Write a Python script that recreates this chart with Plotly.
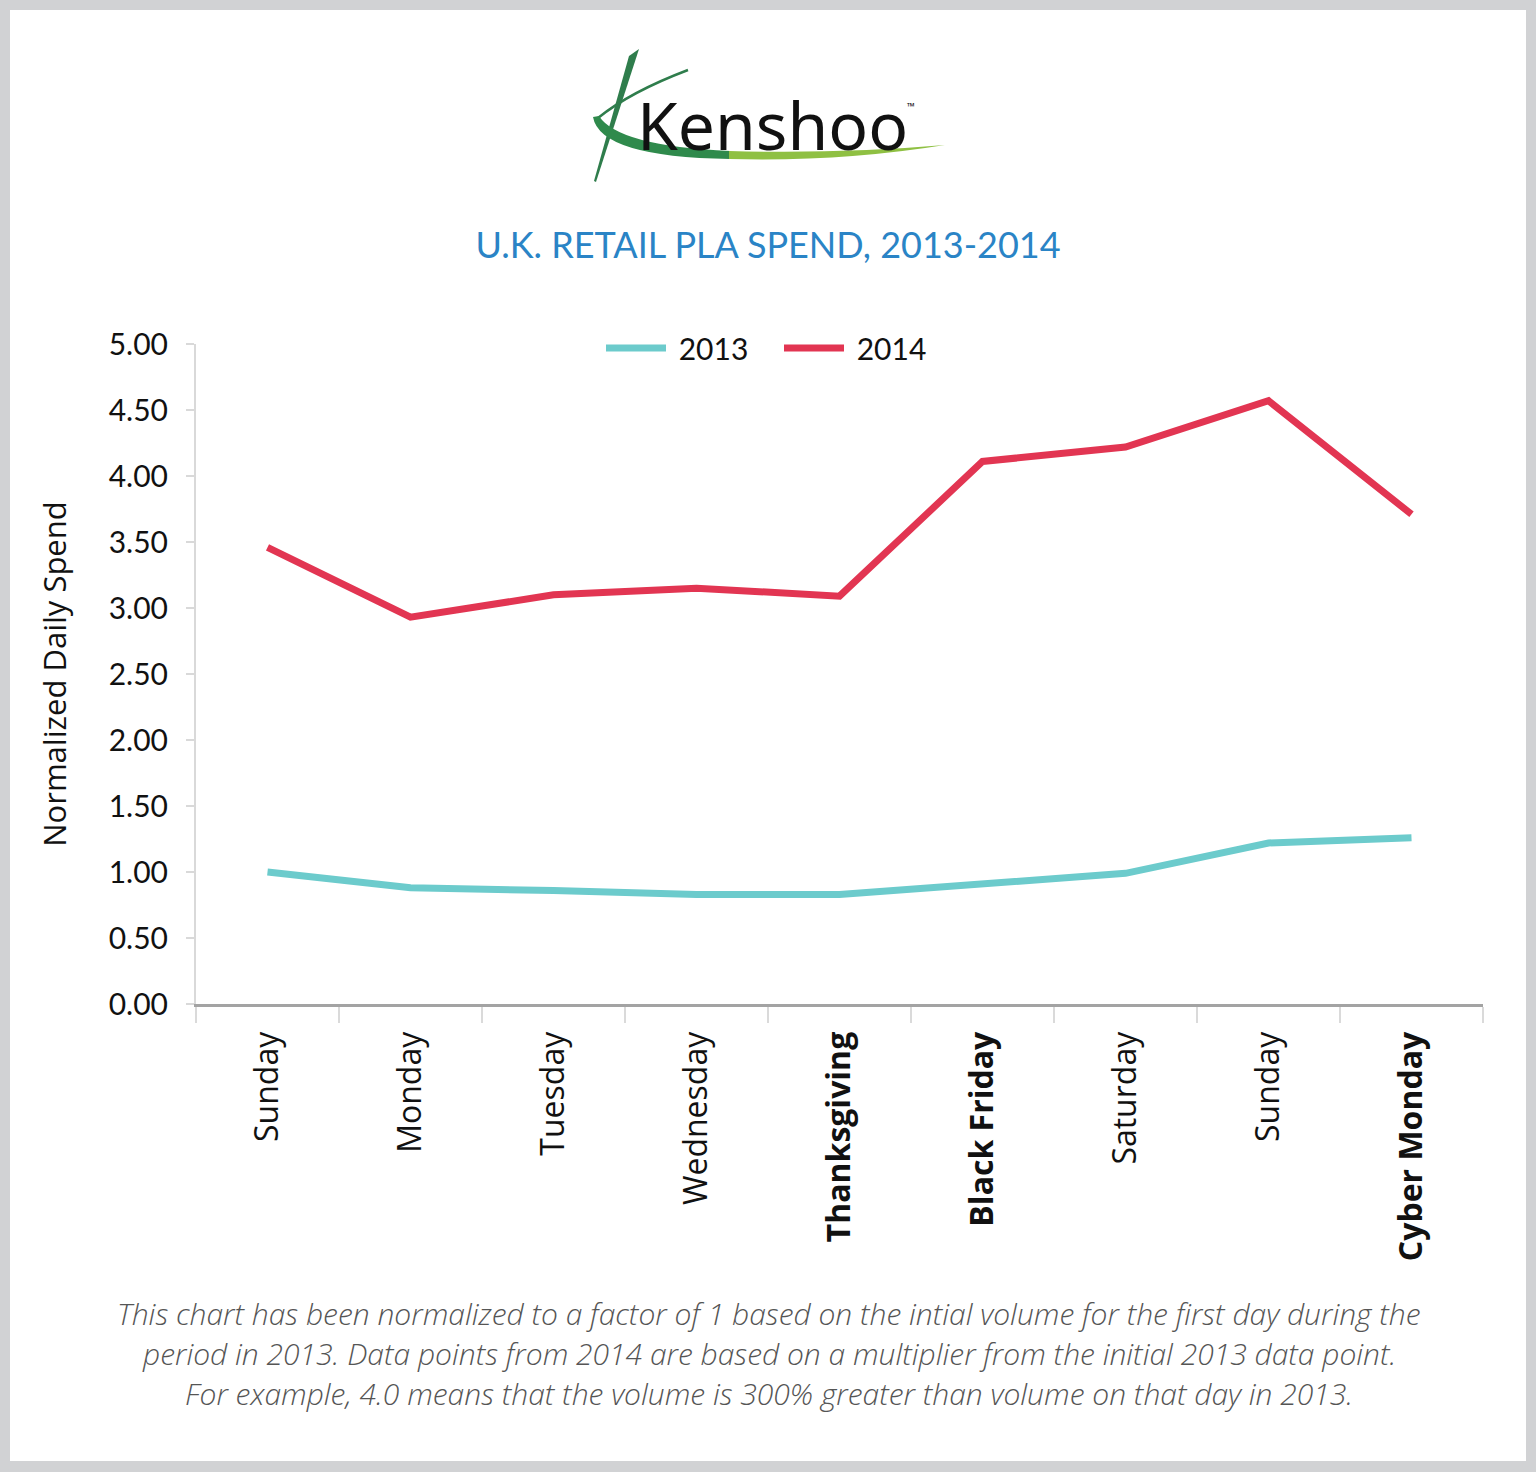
import plotly.graph_objects as go

# Kenshoo - U.K. retail PLA spend, Thanksgiving week 2013 vs 2014
days = ["Sunday", "Monday", "Tuesday", "Wednesday", "Thanksgiving",
        "Black Friday", "Saturday", "Sunday", "Cyber Monday"]
holidays = ["Thanksgiving", "Black Friday", "Cyber Monday"]
spend_2013 = [1.00, 0.88, 0.86, 0.83, 0.83, 0.91, 0.99, 1.22, 1.26]
spend_2014 = [3.46, 2.93, 3.10, 3.15, 3.09, 4.11, 4.22, 4.57, 3.71]
y_ticks = [0.0, 0.5, 1.0, 1.5, 2.0, 2.5, 3.0, 3.5, 4.0, 4.5, 5.0]

footnote_lines = [
    "This chart has been normalized to a factor of 1 based on the intial volume for the first day during the",
    "period in 2013. Data points from 2014 are based on a multiplier from the initial 2013 data point.",
    "For example, 4.0 means that the volume is 300% greater than volume on that day in 2013.",
]

W, H = 1536, 1472
ML, MR, MT, MB = 196, 53, 344, 468
PW, PH = W - ML - MR, H - MT - MB


def px(x):
    return (x - ML) / PW


def py(y):
    return (H - MB - y) / PH


def seg(pts):
    # page pixel coords -> svg path in paper units
    out = []
    for cmd, coords in pts:
        if coords:
            out.append(cmd + " " + " ".join(f"{px(a):.5f},{py(b):.5f}" for a, b in coords))
        else:
            out.append(cmd)
    return " ".join(out)


x_idx = list(range(len(days)))
tick_text = [f"<b>{d}</b>" if d in holidays else d for d in days]

fig = go.Figure()
fig.add_trace(go.Scatter(x=x_idx, y=spend_2013, name=" 2013", mode="lines",
                         line=dict(color="#6ccbcc", width=7)))
fig.add_trace(go.Scatter(x=x_idx, y=spend_2014, name=" 2014", mode="lines",
                         line=dict(color="#e23552", width=7)))

shapes = [
    # grey frame
    dict(type="rect", xref="paper", yref="paper", x0=px(10), x1=px(W - 10), y0=py(10), y1=py(H - 11),
         fillcolor="white", line_width=0, layer="below"),
    # logo: stem
    dict(type="path", xref="paper", yref="paper", layer="above", line_width=0, fillcolor="#2f7d4c",
         path=seg([("M", [(629, 56)]), ("L", [(639, 49)]), ("L", [(596, 182)]), ("L", [(594, 181)]), ("Z", [])])),
    # logo: upper swoosh
    dict(type="path", xref="paper", yref="paper", layer="above", line=dict(color="#2f7d4c", width=2.5),
         path=seg([("M", [(598, 118)]), ("Q", [(630, 92), (688, 70)])])),
    # logo: lower swoosh dark part
    dict(type="path", xref="paper", yref="paper", layer="above", line_width=0, fillcolor="#2f8a4c",
         path=seg([("M", [(593, 117)]), ("Q", [(600, 157), (730, 159)]), ("L", [(730, 151)]),
                   ("Q", [(618, 146), (599, 116)]), ("Z", [])])),
    # logo: lower swoosh light part
    dict(type="path", xref="paper", yref="paper", layer="above", line_width=0, fillcolor="#8fc043",
         path=seg([("M", [(729, 159)]), ("Q", [(840, 162), (945, 145)]), ("Q", [(840, 154), (729, 151)]),
                   ("Z", [])])),
]

annotations = [
    dict(text="Kenshoo", xref="paper", yref="paper", x=px(772), y=py(124), xanchor="center", yanchor="middle",
         showarrow=False, font=dict(family="Noto Sans", size=66, color="#111111")),
    dict(text="™", xref="paper", yref="paper", x=px(911), y=py(106), xanchor="center", yanchor="middle",
         showarrow=False, font=dict(family="Noto Sans", size=10, color="#111111")),
]
for i, line in enumerate(footnote_lines):
    annotations.append(
        dict(text=line, xref="paper", yref="paper", x=px(769), y=py(1313 + 40 * i),
             xanchor="center", yanchor="middle", showarrow=False,
             font=dict(family="Open Sans", size=30, weight=300, color="#555555", style="italic")))

fig.update_layout(
    width=W, height=H,
    margin=dict(l=ML, r=MR, t=MT, b=MB, pad=0),
    paper_bgcolor="#d1d2d4",
    plot_bgcolor="white",
    title=dict(text="U.K. RETAIL PLA SPEND, 2013-2014", x=0.5, xanchor="center",
               y=1 - 245 / H, yanchor="middle",
               font=dict(family="Lato", size=36, color="#2a84c6")),
    showlegend=True,
    legend=dict(orientation="h", x=px(779), xanchor="center", y=py(348), yanchor="middle",
                font=dict(family="Lato", size=30, color="#111111"), itemwidth=60,
                entrywidth=103, bgcolor="rgba(0,0,0,0)"),
    shapes=shapes,
    annotations=annotations,
)

fig.update_xaxes(
    range=[-0.5, len(days) - 0.5],
    tickvals=x_idx, ticktext=tick_text, tickangle=-90,
    ticks="", ticklabelstandoff=12,
    tickfont=dict(family="Open Sans", size=32, color="#111111"),
    showline=True, linecolor="#a3a3a3", linewidth=3,
    showgrid=False, zeroline=False,
    minor=dict(tick0=0.5, dtick=1, ticks="outside", ticklen=16, tickcolor="#dadada",
               tickwidth=2, showgrid=False),
)

fig.update_yaxes(
    range=[0, 5], tickvals=y_ticks, tickformat=".2f",
    ticks="outside", ticklen=8, tickcolor="#d9d9d9", tickwidth=2,
    ticklabelstandoff=12,
    tickfont=dict(family="Lato", size=30, color="#111111"),
    showline=True, linecolor="#d9d9d9", linewidth=2,
    showgrid=False, zeroline=False,
    title=dict(text="Normalized Daily Spend", standoff=33,
               font=dict(family="Open Sans", size=31, color="#111111")),
)

fig.write_html("out.html", config={"displayModeBar": False},
               post_script="document.body.style.margin='0';")
